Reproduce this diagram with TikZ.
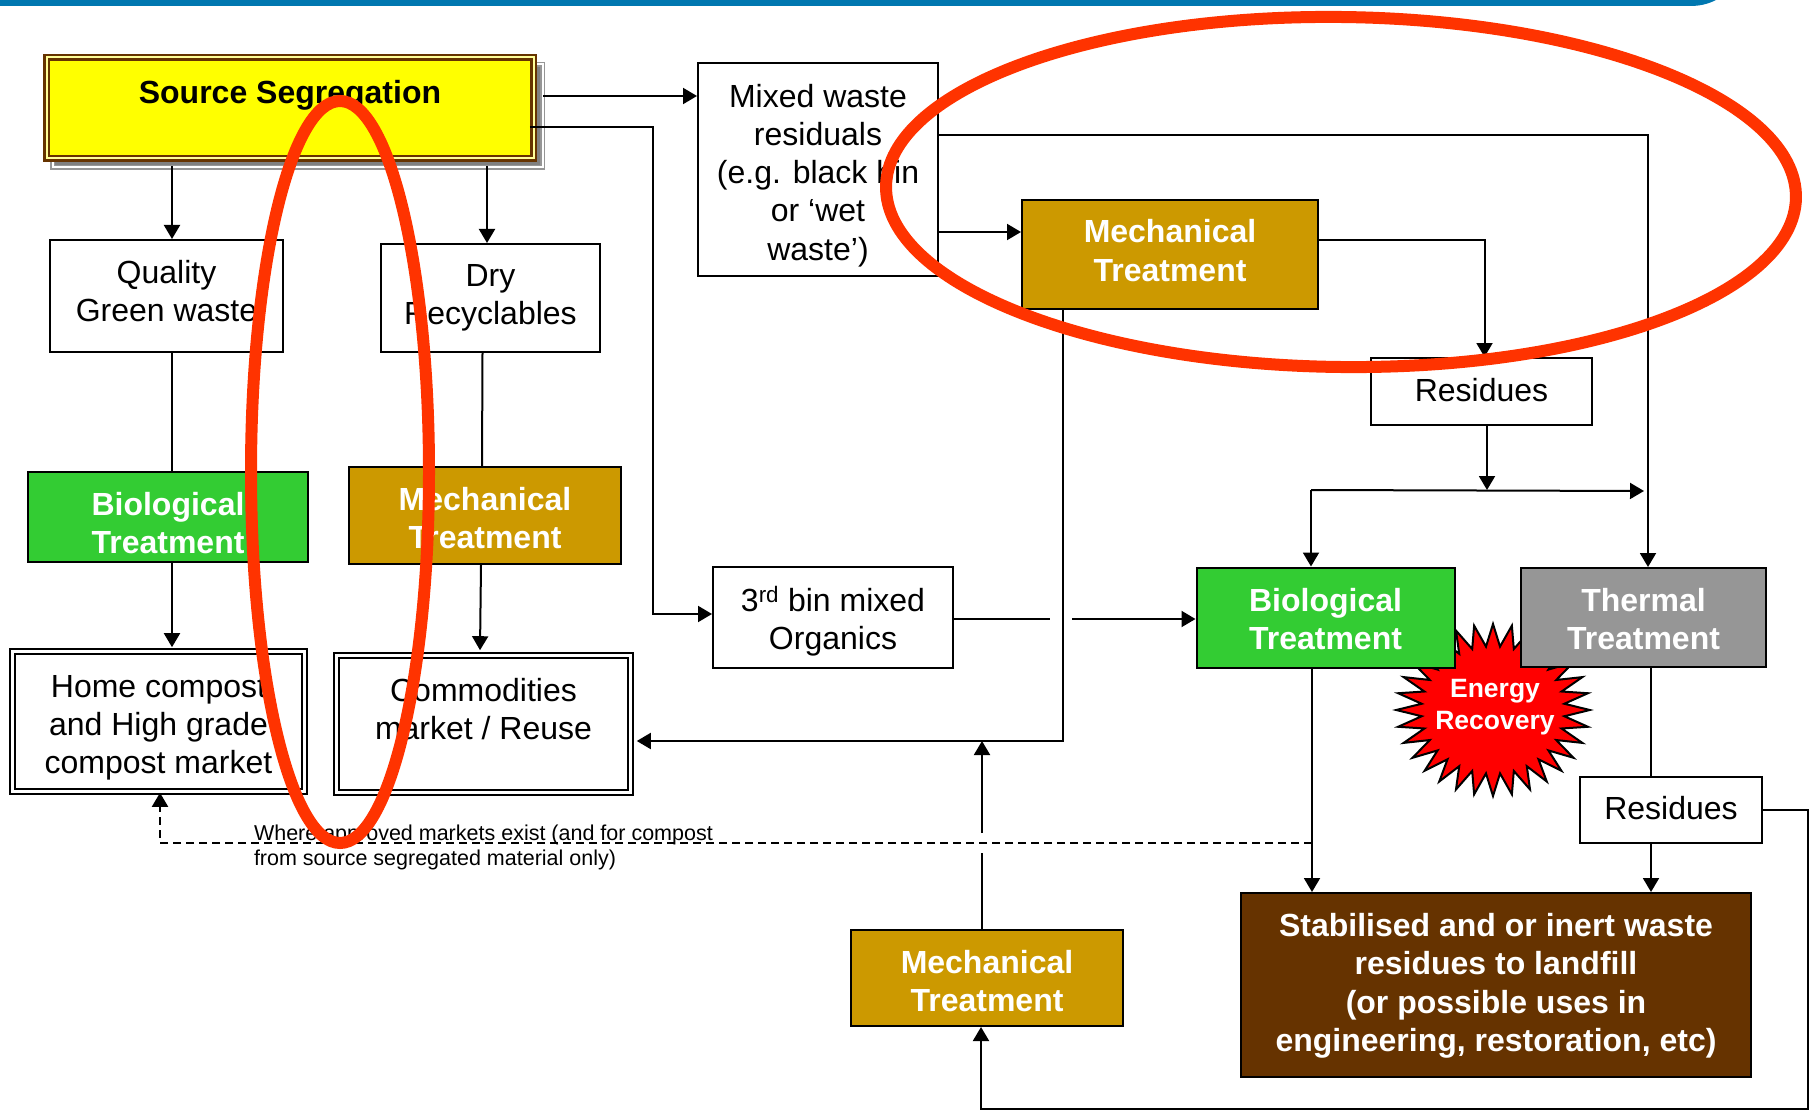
\documentclass[tikz,border=0pt]{standalone}
\usepackage{fontspec}
\setmainfont{Liberation Sans}
\usetikzlibrary{arrows.meta,shapes}
\definecolor{bandblue}{HTML}{0077B0}
\definecolor{ringred}{HTML}{FF3300}
\definecolor{soilbrown}{HTML}{663300}
\definecolor{mechgold}{HTML}{CC9900}
\definecolor{biogreen}{HTML}{33CC33}
\definecolor{thermgrey}{HTML}{969696}
\definecolor{srcyellow}{HTML}{FFFF00}
\newcommand{\dropline}[1]{~\\[#1]}
\newcommand{\liftline}[1]{\\[#1]~}

\begin{document}
\begin{tikzpicture}[
        x=1pt, y=-1pt,
        >={Triangle[length=14pt,width=16pt]},
        every path/.style={line width=2pt},
        every node/.style={align=center, inner sep=0pt, font=\fontsize{32}{38.3}\selectfont},
        plainbox/.style={draw, fill=white},
        marketbox/.style={draw, line width=2.6pt, double, double distance=2.2pt},
        treatbox/.style={draw, text=white, font=\fontsize{32}{38.3}\selectfont\bfseries},
        ring/.style={draw=ringred, line width=12pt, ellipse, inner sep=0pt}
    ]
    \useasboundingbox (0,0) rectangle (1810,1110);

    % Band along the top
      \fill[bandblue] (0,0) -- (1716,0) .. controls (1708,4) and (1700,6) .. (1690,6) -- (0,6) -- cycle;

    % Nodes
      \node (shadow)[draw=thermgrey, fill=gray, line width=1.5pt, double, double distance=2pt, minimum width=490pt, minimum height=103pt] at (297.5,116) {};
      \node (source)[draw=soilbrown, fill=srcyellow, line width=2.5pt, double=srcyellow!40!white, double distance=2pt, minimum width=487pt, minimum height=101pt, font=\fontsize{32}{38.3}\selectfont\bfseries] at (290,108) {Source Segregation\\[-6pt]~};

      \node (quality)[plainbox, minimum width=233pt, minimum height=112pt] at (166.5,296) {Quality\\Green waste\liftline{-28.3pt}};
      \node (dry)[plainbox, minimum width=219pt, minimum height=108pt] at (490.5,298) {Dry\\Recyclables};
      \node (mixed)[plainbox, minimum width=240pt, minimum height=213pt] at (818,169.5) {\dropline{-3.3pt}Mixed waste\\residuals\\(e.g. black bin\\or ‘wet\\waste’)};

      \node (mecha)[treatbox, fill=mechgold, minimum width=296pt, minimum height=109pt] at (1170,254.5) {Mechanical\\Treatment\liftline{-30.3pt}};
      \node (resa)[plainbox, minimum width=221pt, minimum height=67pt] at (1481.5,391.5) {Residues\liftline{-34.3pt}};

      \node (bioa)[treatbox, fill=biogreen, minimum width=280pt, minimum height=90pt] at (168,517) {\dropline{-3.3pt}Biological\\Treatment};
      \node (mechb)[treatbox, fill=mechgold, minimum width=272pt, minimum height=97pt] at (485,515.5) {\dropline{-9.3pt}Mechanical\\Treatment};

      \node (home)[marketbox, minimum width=292pt, minimum height=140pt] at (158.5,721.5) {\dropline{-3.3pt}Home compost\\and High grade\\compost market};
      \node (market)[marketbox, minimum width=294pt, minimum height=137pt] at (483.5,724) {Commodities\\market / Reuse\\[-8.3pt]~};

      \node (bin)[plainbox, minimum width=240pt, minimum height=101pt] at (833,617.5) {\dropline{-6.3pt}3\textsuperscript{rd} bin mixed\\Organics};

      \node (star)[star, star points=32, star point ratio=1.35, draw, fill=red, minimum size=172pt, xscale=1.125, transform shape] at (1493,710) {};
      \node (energy)[text=white, font=\fontsize{26.5}{32}\selectfont\bfseries] at (1495,707) {Energy\\Recovery};

      \node (biob)[treatbox, fill=biogreen, minimum width=258pt, minimum height=100pt] at (1325.5,617.5) {\dropline{-12.3pt}Biological\\Treatment};
      \node (thermal)[treatbox, fill=thermgrey, minimum width=245pt, minimum height=99pt] at (1643.5,617.5) {\dropline{-12.3pt}Thermal\\Treatment};

      \node (resb)[plainbox, minimum width=182pt, minimum height=66pt] at (1671,810) {Residues\liftline{-34.3pt}};
      \node (landfill)[treatbox, fill=soilbrown, minimum width=510pt, minimum height=184pt] at (1496,985) {\dropline{-13.3pt}Stabilised and or inert waste\\residues to landfill\\(or possible uses in\\engineering, restoration, etc)};
      \node (mechc)[treatbox, fill=mechgold, minimum width=272pt, minimum height=96pt] at (987,978) {\dropline{-9.3pt}Mechanical\\Treatment};

      \node (note)[anchor=west, align=left, font=\fontsize{21.5}{25}\selectfont] at (253,847) {Where approved markets exist (and for compost\\from source segregated material only)};

    % Free ends
      \coordinate (teeleft) at (1311,490);
      \coordinate (teeright) at (1644,491);
      \coordinate (gapleft) at (1050,619);
      \coordinate (gapright) at (1072,619);
      \coordinate (dashturn) at (160,842.5);
      \coordinate (dashend) at (1312,842.5);
      \coordinate (gaplow) at (982,853);
      \coordinate (gaphigh) at (982,833);
      \coordinate (meet) at (982,741);
      \coordinate (binturn) at (653,614);
      \coordinate (farright) at (1808,1109);

    % Connectors
      \draw[->] ([yshift=20pt]shadow.east) -- (mixed.west |- 0,96);
      \draw[->] ([xshift=-5pt,yshift=-19pt]source.east) -| (binturn) -- ([yshift=3.5pt]bin.west);
      \draw[->] ([yshift=2pt]shadow.south -| 172,0) -- (quality.north -| 172,0);
      \draw[->] ([yshift=2pt]shadow.south -| 487,0) -- (dry.north -| 487,0);

      \draw (quality.south -| 172,0) -- (bioa.north -| 172,0);
      \draw[->] (bioa.south -| 172,0) -- ([yshift=3pt]home.north -| 172,0);
      \draw (dry.south -| 482.5,0) -- (mechb.north -| 482,0);
      \draw[->] (mechb.south -| 481,0) -- ([yshift=4pt]market.north -| 480,0);

      \draw[->] (mixed.east |- 0,232) -- (mecha.west |- 0,232);
      \draw[->] (mixed.east |- 0,135) -| (thermal.north -| 1648,0);
      \draw[->] (mecha.east |- 0,240) -| (resa.north -| 1484.5,0);
      \draw[->] (resa.south -| 1487,0) -- (1487,490);
      \draw[->] (teeleft) -- (teeright);
      \draw[->] (teeleft) -- (biob.north -| teeleft);

      \draw (bin.east |- gapleft) -- (gapleft);
      \draw[->] (gapright) -- (biob.west |- gapright);
      \draw[->] (mecha.south -| 1063,0) |- ([xshift=5pt,yshift=-17pt]market.east);

      \draw[->] (biob.south -| 1312,0) -- (landfill.north -| 1312,0);
      \draw (thermal.south -| 1651,0) -- (resb.north -| 1651,0);
      \draw[->] (resb.south -| 1651,0) -- (landfill.north -| 1651,0);

      \draw[->, dashed, dash pattern=on 8pt off 5pt] (dashend) -- (dashturn) -- (home.south -| dashturn);
      \draw (mechc.north -| gaplow) -- (gaplow);
      \draw[->] (gaphigh) -- (meet);
      \draw[->] (resb.east) -| (farright) -| (mechc.south -| 981,0);

    % Rings drawn over everything
      \node (ringright)[ring, minimum width=910pt, minimum height=350pt, rotate=-0.7] at (1341,192) {};
      \node (ringleft)[ring, minimum width=178pt, minimum height=742pt] at (340,472) {};
\end{tikzpicture}
\end{document}
